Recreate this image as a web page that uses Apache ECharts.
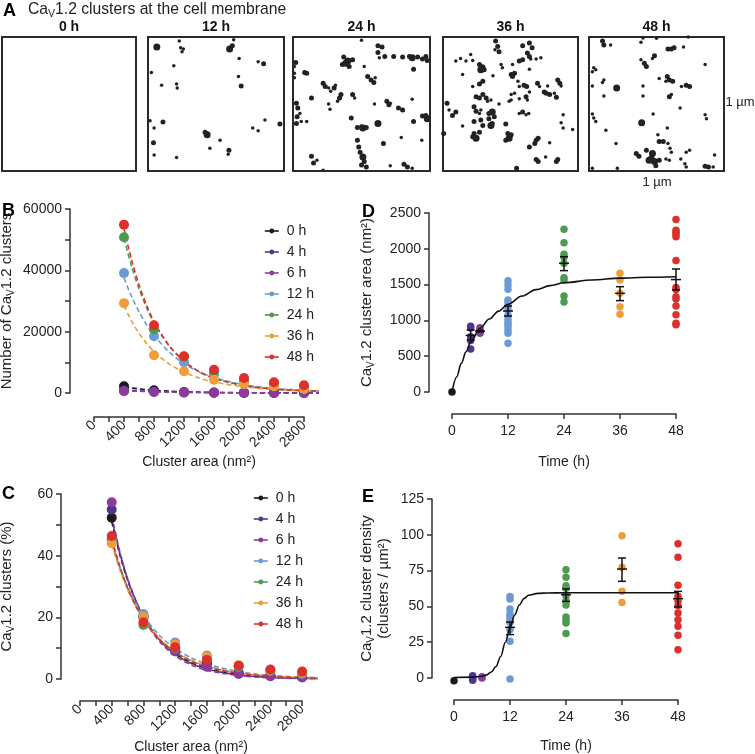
<!DOCTYPE html>
<html><head><meta charset="utf-8">
<script src="https://cdn.jsdelivr.net/npm/echarts@6/dist/echarts.min.js"></script>
<style>html,body{margin:0;padding:0;background:#fff}#c{width:755px;height:754px}</style>
</head><body><div id="c"></div>
<script>
const FONT = 'Liberation Sans, Arial, Helvetica, sans-serif';
const groups = ['0 h', '4 h', '6 h', '12 h', '24 h', '36 h', '48 h'];
const groupColors = ['#1a1a1a', '#4e3592', '#8c3a9c', '#6b9ad5', '#4f9a51', '#ef9d38', '#dc302d'];

// ---------- Panel A: cluster maps [x %, y %, cluster size class] ----------
const panelATitles = ['0 h', '12 h', '24 h', '36 h', '48 h'];
const dots0h = [];
const dots12h = [[6.5,7.5,3],[23,3,1],[24,8,1],[26,9,1],[25,11,1],[60,9,3],[62,6.5,2],[63,2,1],[67,16,1],[85,20,2],[81,18.5,1],[19,21.5,1],[2.5,26.5,1],[66.5,29.5,1],[10,36,1],[21,35,1],[21.5,38,1],[68.5,36.5,2],[11,63.5,2],[4.5,68,1],[1.5,62.5,1],[86,62,1],[97,65,2],[77,68,1],[81,70,1],[43.5,73,3],[42,71,2],[53,77,1],[4,79,2],[45.5,83,1],[59.5,84.5,2],[59,87.5,1],[4.5,88,1],[21,90,1]];
const dots24h = [[50,2.5,1],[62,6.5,2],[65,7.5,2],[62,11.5,2],[67,14.5,2],[63,15.5,1],[73.5,14.5,2],[80,15,2],[85,14.5,2],[87,15.5,3],[91,15,2],[94.5,16.5,2],[97,14.5,2],[98,17.5,2],[37,15,2],[40,18,3],[43.5,17,2],[36,20.5,2],[41,22,2],[38.5,19.5,3],[2,19,2],[1,22,1],[52,22,1],[88,24,2],[8.5,26.5,2],[10,27,2],[1,27,1],[1,30.5,1],[54.5,29.5,2],[57,32,2],[59,34,2],[60,30.5,1],[22,34.5,2],[23.5,37,2],[26,38,1],[31,36,1],[30,38,2],[27.5,40.5,1],[35,43,2],[34,45.5,2],[32.5,48,1],[43.5,43,2],[45,45.5,1],[13.5,45.5,2],[2.5,49.5,2],[3.5,53,2],[5,57,1],[3,59.5,2],[6,63,1],[2.5,64.5,2],[26,50,1],[59.5,50,1],[68.5,48,2],[70,50.5,2],[71,49.5,1],[77,53,2],[80,54.5,2],[87,46.5,1],[94.5,59,2],[98,61,3],[97,58.5,2],[27,54,1],[42.5,60.5,2],[62,64.5,3],[88,63,2],[10,63,1],[47,67.5,2],[51,68,3],[53.5,67.5,2],[50,67,2],[47,77,2],[48,82,2],[49,86,2],[51,89.5,3],[52,93,2],[50,95.5,2],[53.5,97,2],[66,79.5,2],[79,75,1],[94,77,1],[13.5,89,2],[17.5,92,1],[15,94,2],[71,96,1],[81,95,2],[83.5,97,2],[87,98,1],[22,99.5,1]];
const dots36h = [[39,3,2],[40.5,7,2],[41.5,11,2],[38.5,9.5,1],[59,6.5,2],[64,4.5,2],[66,8,2],[62.5,12,2],[64,14.5,2],[65,16.5,1],[9.5,18,1],[13,16,1],[17,18,1],[22,17.5,1],[20.5,13,1],[27,20.5,2],[29,23,3],[28,24.5,3],[30.5,24.5,2],[43,20.5,1],[44,23,1],[51.5,20.5,1],[56.5,18,2],[59,17,2],[64,24,1],[69,16.5,1],[72.5,15.5,1],[14.5,28,1],[37,29,1],[50.5,28,2],[53,27,2],[51.5,29.5,2],[22,37,1],[27,35,2],[29.5,33,2],[55.5,33,1],[56.5,37,1],[60,36,2],[62,37,2],[70,34.5,2],[71.5,37,1],[77.5,36.5,1],[85,32,2],[86.5,34.5,2],[87.5,36.5,1],[64,41,1],[75,41,2],[76.5,42,2],[79,43,2],[84,45,2],[82.5,42,1],[50.5,43,1],[53,42,1],[24.5,44.5,2],[27,45.5,2],[29.5,43,2],[32,45.5,2],[33,48,1],[35.5,47,1],[41.5,50,1],[49,48,1],[50.5,47,1],[56.5,46,1],[61.5,44.5,2],[62.5,47,1],[3,49.5,2],[4.5,54.5,1],[9.5,56,2],[7,58.5,2],[23,52,2],[24.5,55.5,2],[27,57,1],[28,54.5,1],[34,57,2],[36.5,56,3],[38,59.5,2],[34,61,2],[56.5,57,1],[59,56,2],[61.5,58,1],[63.5,57,1],[89,58,1],[23,63,2],[28,62,2],[29.5,66,2],[36.5,64.5,2],[35.5,66,3],[14.5,66.5,1],[46.5,65,2],[87.5,64,1],[89,68,1],[96,69,1],[0.5,72,2],[23,72,2],[24.5,75.5,3],[22,74.5,2],[27,71,2],[48,72,2],[49,75.5,3],[46.5,77,2],[50.5,73,2],[69,77,2],[70.5,75.5,2],[68,79.5,2],[64,82,2],[79,79,1],[69,91.5,2],[70.5,93,2],[76,89.5,1],[85,91.5,2],[84,93,2],[54.5,98,2]];
const dots48h = [[10,3,2],[11,6,2],[16,6,1],[38.5,4,1],[40,0.7,1],[50,1,1],[73.5,0,1],[61,9,2],[63,8,2],[58.5,9,2],[70,7.5,1],[48.5,14,2],[47,16,1],[38.5,17,1],[41,19.5,2],[42.5,22,2],[86,20.5,1],[3.5,23,1],[5,24.5,1],[2.5,26,1],[11,32,1],[10,34,1],[52,31,1],[58,29.5,2],[59.5,32,2],[62,33,2],[57,33,1],[72,36,2],[74.5,37,2],[68.5,37,1],[20.5,38,3],[2.5,36.5,1],[40,36.5,1],[40,44,1],[11,44,1],[59.5,44.5,2],[61,43,1],[67.5,53,1],[2.5,57.5,1],[3.5,60.5,1],[5,63,1],[47.5,57.5,1],[86,58,1],[87,61,1],[39,64,3],[58,68,1],[12.5,69.5,1],[51,73,1],[52,78,2],[55,78,2],[58.5,79.5,1],[60,83,1],[61,86,1],[20,79.5,1],[35,87,2],[37,89,2],[42.5,84.5,2],[47,87,3],[46,91,3],[48.5,93,3],[52,92,2],[49.5,96,2],[44.5,92,3],[57,91,1],[59.5,92,1],[68,91,1],[71,94.5,1],[72,97,1],[72,86,1],[74.5,84.5,1],[93,88,1],[86,96.5,2],[88.5,97,2],[92,97,1],[2.5,98,1],[21,98,1]];

// ---------- Panel B: number of clusters ----------
const areaBins = [400, 800, 1200, 1600, 2000, 2400, 2800];
const areaTickLabels = ['0', '400', '800', '1200', '1600', '2000', '2400', '2800'];
const bCount0h = [2200, 900, 300, 150, 100, 80, 60];
const bCount4h = [800, 400, 200, 100, 60, 40, 30];
const bCount6h = [600, 300, 150, 80, 50, 30, 20];
const bCount12h = [39100, 18500, 10000, 6000, 4000, 2700, 1600];
const bCount24h = [50800, 20700, 11800, 7000, 4300, 3000, 2000];
const bCount36h = [29300, 12300, 7100, 4300, 2900, 2200, 1300];
const bCount48h = [54900, 22100, 12000, 7600, 4900, 3500, 2500];
const fitArea = [400, 500, 600, 700, 800, 1000, 1200, 1400, 1600, 2000, 2400, 2800, 3000];
const bFit0h = [2000, 1650, 1350, 1100, 900, 600, 400, 270, 180, 80, 40, 20, 10];
const bFit4h = [1000, 840, 700, 590, 500, 350, 250, 170, 120, 60, 30, 15, 10];
const bFit6h = [800, 670, 560, 470, 400, 280, 200, 140, 100, 50, 25, 12, 8];
const bFit12h = [37500, 31500, 26500, 22300, 18800, 13400, 9600, 6900, 5000, 2700, 1500, 900, 700];
const bFit24h = [50500, 41400, 34000, 27900, 22900, 15400, 10400, 7000, 4800, 2400, 1300, 750, 600];
const bFit36h = [28500, 23500, 19500, 16200, 13500, 9500, 6800, 4900, 3600, 2000, 1150, 700, 550];
const bFit48h = [53500, 43500, 35300, 28700, 23300, 15500, 10400, 7000, 4800, 2400, 1300, 750, 600];

// ---------- Panel C: % clusters ----------
const cPct0h = [52.3, 20, 9, 5, 2, 1.2, 0.8];
const cPct4h = [55, 20.5, 9.5, 4.5, 1.8, 1.0, 0.6];
const cPct6h = [57.3, 20, 9, 4, 1.6, 0.9, 0.5];
const cPct12h = [45, 21.1, 11.8, 7.6, 4.0, 2.6, 1.6];
const cPct24h = [45.5, 17.5, 10, 6.5, 4.2, 2.8, 1.8];
const cPct36h = [44, 20.2, 11.2, 7.2, 4.5, 2.9, 2.0];
const cPct48h = [46.4, 18.4, 10.3, 6.2, 4.3, 3.1, 2.4];
const cFit0h = [51, 40.5, 32, 25.5, 20.2, 12.8, 8.2, 5.3, 3.4, 1.4, 0.6, 0.25, 0.15];
const cFit4h = [52, 41, 32.5, 25.7, 20.3, 12.8, 8.0, 5.1, 3.2, 1.3, 0.5, 0.2, 0.12];
const cFit6h = [53, 41.5, 32.5, 25.4, 19.8, 12.2, 7.5, 4.6, 2.8, 1.1, 0.4, 0.15, 0.1];
const cFit12h = [44, 36.3, 30, 24.8, 20.5, 14.2, 9.9, 6.9, 4.9, 2.4, 1.2, 0.6, 0.45];
const cFit24h = [45, 36.4, 29.5, 24, 19.5, 13, 8.7, 5.9, 4.0, 1.9, 0.9, 0.45, 0.3];
const cFit36h = [43.5, 35.5, 29, 23.8, 19.5, 13.2, 9.0, 6.2, 4.3, 2.1, 1.0, 0.5, 0.35];
const cFit48h = [45.5, 36.6, 29.5, 23.8, 19.3, 12.8, 8.6, 5.8, 3.9, 1.8, 0.85, 0.4, 0.3];

// ---------- Panel D: cluster area vs time ----------
const timePoints = [0, 4, 6, 12, 24, 36, 48];
const dArea0h = [0];
const dArea4h = [920, 895, 770, 720, 600];
const dArea6h = [899, 857, 820];
const dArea12h = [1555, 1494, 1434, 1285, 1257, 1201, 1145, 1075, 1024, 982, 950, 912, 866, 819, 680];
const dArea24h = [2272, 2086, 1923, 1881, 1797, 1597, 1564, 1341, 1257];
const dArea36h = [1657, 1564, 1378, 1192, 1085];
const dArea48h = [2410, 2260, 2230, 2200, 2170, 1835, 1460, 1430, 1330, 1300, 1200, 1080, 960, 940];
const dFitTime = [0, 1, 2, 3, 4, 6, 8, 10, 12, 15, 18, 21, 24, 30, 36, 42, 48];
const dFitArea = [0, 210, 400, 560, 700, 890, 1020, 1130, 1225, 1340, 1430, 1485, 1525, 1565, 1590, 1603, 1610];
const dErrTime = [4, 6, 12, 24, 36, 48];
const dErrMean = [791, 850, 1131, 1797, 1378, 1570];
const dErrLow = [726, 838, 1061, 1695, 1276, 1425];
const dErrHigh = [866, 862, 1201, 1890, 1471, 1718];

// ---------- Panel E: cluster density vs time ----------
const eDens0h = [-1.9];
const eDens4h = [1.5, 0.5, -0.5, -1.5];
const eDens6h = [0.8, 0];
const eDens12h = [57.0, 55.2, 48.2, 44.9, 43.1, 41.2, 38.9, 33.8, 25.6, -0.7];
const eDens24h = [75.6, 70.3, 64.5, 62.6, 57.5, 54.0, 51.0, 42.6, 40.3, 38.4, 31.0];
const eDens36h = [99.4, 77.3, 60.5, 52.8];
const eDens48h = [93.8, 84.3, 64.7, 57.0, 53.8, 50.5, 45.4, 40.7, 36.1, 29.8, 19.8];
const eFitTime = [0, 4, 6, 7, 8, 9, 10, 11, 12, 13, 14, 15, 16, 18, 20, 24, 36, 48];
const eFitDens = [0.3, 0.6, 1.2, 2.2, 4.2, 8, 15, 25, 35, 44, 51, 55.5, 57.8, 59.1, 59.4, 59.5, 59.5, 59.5];
const eErrTime = [12, 24, 36, 48];
const eErrMean = [35.4, 58.2, 76.1, 55.4];
const eErrLow = [30.3, 53.5, 67.5, 49.6];
const eErrHigh = [39.1, 62.2, 83.8, 60.5];

// ================= build =================
const bCounts = [bCount0h, bCount4h, bCount6h, bCount12h, bCount24h, bCount36h, bCount48h];
const bFits = [bFit0h, bFit4h, bFit6h, bFit12h, bFit24h, bFit36h, bFit48h];
const cPcts = [cPct0h, cPct4h, cPct6h, cPct12h, cPct24h, cPct36h, cPct48h];
const cFits = [cFit0h, cFit4h, cFit6h, cFit12h, cFit24h, cFit36h, cFit48h];
const dAreas = [dArea0h, dArea4h, dArea6h, dArea12h, dArea24h, dArea36h, dArea48h];
const eDens = [eDens0h, eDens4h, eDens6h, eDens12h, eDens24h, eDens36h, eDens48h];
const aDots = [dots0h, dots12h, dots24h, dots36h, dots48h];
const zip = (xs, ys) => xs.map((x, i) => [x, ys[i]]);

const AXC = '#333';
const TXT = '#222';
const sub = { fontSize: 10, padding: [8, 0, 0, 0], fontFamily: FONT, color: TXT };

function valAxis(o) {
  return Object.assign({
    type: 'value', splitLine: { show: false },
    axisLine: { show: true, onZero: false, lineStyle: { color: AXC, width: 1.5 } },
    axisTick: { show: true, length: 5, lineStyle: { color: AXC, width: 1.5 } },
    axisLabel: { color: TXT, fontSize: 14, fontFamily: FONT, formatter: v => String(v) },
    nameTextStyle: { color: TXT, fontSize: 15, fontFamily: FONT, rich: { s: sub } },
    nameLocation: 'middle', nameMoveOverlap: false
  }, o);
}
const hiddenAxis = (min, max, inv) => ({ type: 'value', show: false, min, max, inverse: !!inv, splitLine: { show: false } });
const xNameStyle = { color: TXT, fontSize: 14, fontFamily: FONT };

const grids = [];
const xAxes = [];
const yAxes = [];
const series = [];

// Panel A grids
const aBoxes = [[2, 134], [148, 136], [293, 137], [443, 135], [589, 135]];
const dotSizes = [0, 3.5, 5, 7];
aBoxes.forEach((b, i) => {
  grids.push({ left: b[0], top: 37, width: b[1], height: 134, show: true, borderColor: '#2a2a2a', borderWidth: 2, backgroundColor: '#fff', outerBoundsMode: 'none' });
  xAxes.push(Object.assign(hiddenAxis(0, 100), { gridIndex: i }));
  yAxes.push(Object.assign(hiddenAxis(0, 100, true), { gridIndex: i }));
  series.push({ type: 'scatter', name: 'A ' + panelATitles[i], xAxisIndex: i, yAxisIndex: i, data: aDots[i],
    symbolSize: v => dotSizes[v[2]], itemStyle: { color: '#222', opacity: 1 }, silent: true });
});

const minor = { show: true, splitNumber: 2, length: 5, lineStyle: { color: AXC, width: 1.5 } };
// Panel B (grid 5 main, 6 axis)
grids.push({ left: 94, top: 209, width: 225, height: 184, outerBoundsMode: 'none' });
grids.push({ left: 94, top: 209, width: 210, height: 184, outerBoundsMode: 'none' });
xAxes.push(Object.assign(hiddenAxis(0, 3000), { gridIndex: 5 }));
yAxes.push(valAxis({ gridIndex: 5, min: 0, max: 60000, interval: 20000, offset: 24, minorTick: minor,
  axisLabel: { color: TXT, fontSize: 14, fontFamily: FONT, margin: 8, formatter: v => String(v) },
  name: 'Number of Ca{s|V}1.2 clusters', nameGap: 54 }));
xAxes.push(valAxis({ gridIndex: 6, min: 0, max: 2800, interval: 400, offset: 24, minorTick: minor,
  axisLabel: { color: TXT, fontSize: 14, fontFamily: FONT, rotate: 45, margin: 6, formatter: v => areaTickLabels[v / 400] },
  name: 'Cluster area (nm²)', nameGap: 38, nameTextStyle: xNameStyle }));
yAxes.push(Object.assign(hiddenAxis(0, 60000), { gridIndex: 6 }));

// Panel C (grid 7 main, 8 axis)
grids.push({ left: 80, top: 494, width: 238, height: 185, outerBoundsMode: 'none' });
grids.push({ left: 80, top: 494, width: 222, height: 185, outerBoundsMode: 'none' });
xAxes.push(Object.assign(hiddenAxis(0, 3000), { gridIndex: 7 }));
yAxes.push(valAxis({ gridIndex: 7, min: 0, max: 60, interval: 20, offset: 19, minorTick: minor,
  axisLabel: { color: TXT, fontSize: 14, fontFamily: FONT, margin: 8, formatter: v => String(v) },
  name: 'Ca{s|V}1.2 clusters (%)', nameGap: 45 }));
xAxes.push(valAxis({ gridIndex: 8, min: 0, max: 2800, interval: 400, offset: 22, minorTick: minor,
  axisLabel: { color: TXT, fontSize: 14, fontFamily: FONT, rotate: 45, margin: 6, formatter: v => areaTickLabels[v / 400] },
  name: 'Cluster area (nm²)', nameGap: 39, nameTextStyle: xNameStyle }));
yAxes.push(Object.assign(hiddenAxis(0, 60), { gridIndex: 8 }));

// Panel D (grid 9)
grids.push({ left: 452, top: 213, width: 224, height: 179, outerBoundsMode: 'none' });
xAxes.push(valAxis({ gridIndex: 9, min: 0, max: 48, interval: 12, offset: 22,
  axisLabel: { color: TXT, fontSize: 14, fontFamily: FONT, margin: 10, formatter: v => String(v) },
  name: 'Time (h)', nameGap: 41, nameTextStyle: xNameStyle }));
yAxes.push(valAxis({ gridIndex: 9, min: 0, max: 2500, interval: 500, offset: 23,
  axisLabel: { color: TXT, fontSize: 14, fontFamily: FONT, margin: 8, formatter: v => String(v) },
  name: 'Ca{s|V}1.2 cluster area (nm²)', nameGap: 53 }));

// Panel E (grid 10)
grids.push({ left: 454, top: 499, width: 224, height: 179, outerBoundsMode: 'none' });
xAxes.push(valAxis({ gridIndex: 10, min: 0, max: 48, interval: 12, offset: 22,
  axisLabel: { color: TXT, fontSize: 14, fontFamily: FONT, margin: 10, formatter: v => String(v) },
  name: 'Time (h)', nameGap: 39, nameTextStyle: xNameStyle }));
yAxes.push(valAxis({ gridIndex: 10, min: 0, max: 125, interval: 25, offset: 22,
  axisLabel: { color: TXT, fontSize: 14, fontFamily: FONT, margin: 8, formatter: v => String(v) },
  name: 'Ca{s|V}1.2 cluster density\n(clusters / µm²)', nameGap: 41 }));

// B & C series
[[5, bCounts, bFits], [7, cPcts, cFits]].forEach(([ax, pts, fits]) => {
  groups.forEach((g, i) => {
    series.push({ type: 'line', name: g + ' fit' + ax, xAxisIndex: ax, yAxisIndex: ax,
      data: zip(fitArea, fits[i]), symbol: 'none', smooth: 0.3, silent: true, z: 2,
      lineStyle: { color: groupColors[i], width: 1.6, type: [5, 3] } });
  });
  groups.forEach((g, i) => {
    series.push({ type: 'line', name: g, xAxisIndex: ax, yAxisIndex: ax,
      data: zip(areaBins, pts[i]), symbol: 'circle', symbolSize: 10, showSymbol: true, showAllSymbol: true,
      lineStyle: { width: 0, opacity: 0 }, itemStyle: { color: groupColors[i], opacity: 1 }, z: 3 });
  });
});

// D & E series
function errRender(params, api) {
  const m = api.coord([api.value(0), api.value(1)]);
  const lo = api.coord([api.value(0), api.value(2)]);
  const hi = api.coord([api.value(0), api.value(3)]);
  const st = { stroke: '#111', lineWidth: 1.5 };
  const x = m[0], w = 4, wm = 5;
  return { type: 'group', children: [
    { type: 'line', shape: { x1: x, y1: lo[1], x2: x, y2: hi[1] }, style: st },
    { type: 'line', shape: { x1: x - w, y1: lo[1], x2: x + w, y2: lo[1] }, style: st },
    { type: 'line', shape: { x1: x - w, y1: hi[1], x2: x + w, y2: hi[1] }, style: st },
    { type: 'line', shape: { x1: x - wm, y1: m[1], x2: x + wm, y2: m[1] }, style: st }
  ] };
}
[[9, dAreas, dFitTime, dFitArea, dErrTime, dErrMean, dErrLow, dErrHigh],
 [10, eDens, eFitTime, eFitDens, eErrTime, eErrMean, eErrLow, eErrHigh]].forEach(([ax, vals, ft, fv, et, em, el, eh]) => {
  groups.forEach((g, i) => {
    series.push({ type: 'scatter', name: 'P' + ax + ' ' + g, xAxisIndex: ax, yAxisIndex: ax, clip: false,
      data: vals[i].map(v => [timePoints[i], v]), symbolSize: 7.5, z: 2,
      itemStyle: { color: groupColors[i], opacity: 1 } });
  });
  series.push({ type: 'line', name: 'fit' + ax, xAxisIndex: ax, yAxisIndex: ax, data: zip(ft, fv),
    symbol: 'none', smooth: 0.35, smoothMonotone: 'x', silent: true, z: 3,
    lineStyle: { color: '#111', width: 1.6 } });
  series.push({ type: 'custom', name: 'err' + ax, xAxisIndex: ax, yAxisIndex: ax, z: 4, silent: true,
    data: et.map((t, i) => [t, em[i], el[i], eh[i]]), encode: { x: 0, y: [1, 2, 3] },
    renderItem: errRender });
});

const legendBase = {
  data: groups, orient: 'vertical', itemGap: 7, itemWidth: 14, itemHeight: 6, padding: 0,
  textStyle: { fontSize: 14, color: TXT, fontFamily: FONT, padding: [0, 0, 0, 3] },
  lineStyle: { width: 1.6, opacity: 1, type: 'solid' }, selectedMode: false
};

function txt(x, y, text, extra) {
  return { type: 'text', x, y, silent: true,
    style: Object.assign({ text, fill: TXT, font: '14px ' + FONT, align: 'center', verticalAlign: 'middle' }, extra || {}) };
}
const graphics = [
  txt(3, 11, 'A', { align: 'left', font: 'bold 18px ' + FONT, fill: '#000' }),
  txt(28, 10, '{n|Ca}{s|V}{n|1.2 clusters at the cell membrane}', { align: 'left',
    rich: { n: { fontSize: 15.7, fontFamily: FONT, color: TXT }, s: { fontSize: 10.5, fontFamily: FONT, color: TXT, padding: [8, 0, 0, 0] } } }),
  txt(2, 211, 'B', { align: 'left', font: 'bold 18px ' + FONT, fill: '#000' }),
  txt(2, 494, 'C', { align: 'left', font: 'bold 18px ' + FONT, fill: '#000' }),
  txt(362, 212, 'D', { align: 'left', font: 'bold 18px ' + FONT, fill: '#000' }),
  txt(362, 497, 'E', { align: 'left', font: 'bold 18px ' + FONT, fill: '#000' }),
  txt(740, 102, '1 µm', { font: '13px ' + FONT }),
  txt(657, 182, '1 µm', { font: '13px ' + FONT })
];
aBoxes.forEach((b, i) => graphics.push(txt(b[0] + b[1] / 2, 27, panelATitles[i], { font: 'bold 14px ' + FONT, fill: '#111' })));

const chart = echarts.init(document.getElementById('c'), null, { renderer: 'canvas' });
chart.setOption({
  animation: false,
  backgroundColor: '#fff',
  textStyle: { fontFamily: FONT },
  grid: grids, xAxis: xAxes, yAxis: yAxes, series,
  legend: [Object.assign({ left: 264, top: 224 }, legendBase), Object.assign({ left: 253, top: 491 }, legendBase)],
  graphic: graphics
});
</script></body></html>
